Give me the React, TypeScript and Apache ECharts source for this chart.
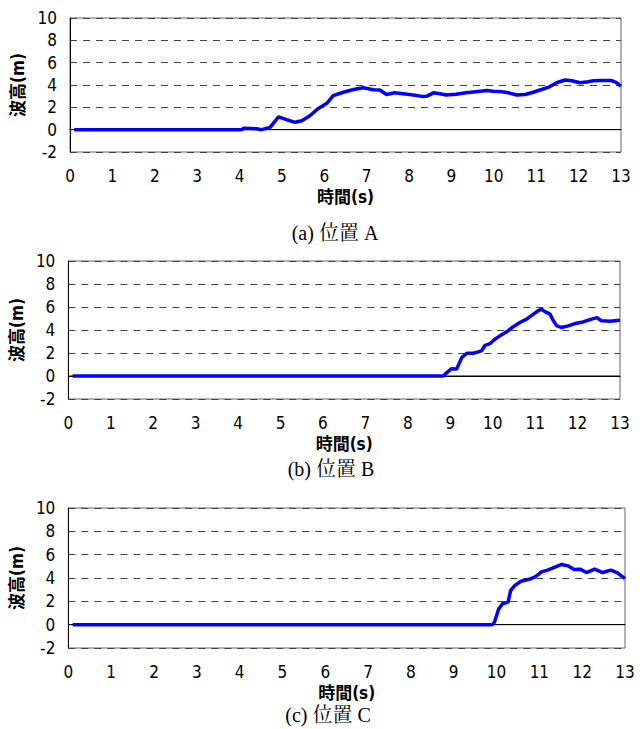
import React, { useEffect, useRef } from "react";
import * as echarts from "echarts";

const xTicks = [0, 13, 1];
const yTicks = [-2, 10, 2];

const tA = [0.1, 4.05, 4.1, 4.4, 4.52, 4.72, 4.92, 5.11, 5.31, 5.47, 5.66, 5.86, 6.06, 6.21, 6.45, 6.69, 6.92, 7.16, 7.31, 7.47, 7.66, 7.86, 8.1, 8.3, 8.42, 8.58, 8.73, 8.88, 9.11, 9.34, 9.58, 9.83, 9.99, 10.19, 10.35, 10.54, 10.74, 10.93, 11.09, 11.28, 11.48, 11.68, 11.84, 12.03, 12.23, 12.35, 12.51, 12.78, 12.9, 13.0];
const hA = [0, 0, 0.12, 0.08, 0, 0.2, 1.15, 0.9, 0.66, 0.8, 1.25, 1.9, 2.36, 3.05, 3.35, 3.6, 3.75, 3.58, 3.55, 3.15, 3.3, 3.22, 3.1, 2.98, 3.0, 3.3, 3.22, 3.1, 3.18, 3.3, 3.4, 3.5, 3.45, 3.4, 3.3, 3.1, 3.15, 3.35, 3.55, 3.78, 4.2, 4.45, 4.38, 4.2, 4.3, 4.38, 4.4, 4.4, 4.2, 3.9];

const tB = [0.1, 8.84, 8.92, 9.03, 9.15, 9.27, 9.39, 9.54, 9.66, 9.74, 9.82, 9.94, 10.05, 10.17, 10.33, 10.48, 10.64, 10.8, 10.96, 11.07, 11.15, 11.23, 11.35, 11.43, 11.51, 11.62, 11.78, 11.94, 12.13, 12.33, 12.46, 12.56, 12.76, 13.0];
const hB = [0, 0, 0.3, 0.64, 0.6, 1.6, 1.98, 1.98, 2.1, 2.2, 2.67, 2.82, 3.2, 3.49, 3.84, 4.27, 4.65, 4.94, 5.38, 5.67, 5.81, 5.6, 5.38, 4.8, 4.36, 4.22, 4.36, 4.56, 4.7, 4.94, 5.08, 4.8, 4.77, 4.85];

const tC = [0.1, 9.9, 9.95, 10.05, 10.14, 10.27, 10.33, 10.43, 10.57, 10.76, 10.9, 11.05, 11.19, 11.38, 11.52, 11.67, 11.81, 11.95, 12.1, 12.29, 12.48, 12.67, 12.81, 13.0];
const hC = [0, 0, 0.2, 1.35, 1.79, 1.93, 2.94, 3.37, 3.72, 3.89, 4.09, 4.52, 4.67, 4.96, 5.16, 5.04, 4.73, 4.76, 4.47, 4.76, 4.47, 4.67, 4.47, 3.95];

const zeroT = [0, 13];
const zeroH = [0, 0];

const captions = ["(a) 位置 A", "(b) 位置 B", "(c) 位置 C"];
const xName = "時間(s)";
const yName = "波高(m)";

const zip = (t: number[], h: number[]) => t.map((v, i) => [v, h[i]]);

const TICK_FONT = "'Liberation Sans Narrow', 'DejaVu Sans Condensed', 'Liberation Sans', 'Noto Sans CJK JP', sans-serif";
const NAME_FONT = "'Liberation Sans Narrow', 'DejaVu Sans Condensed', 'Noto Sans CJK JP', sans-serif";
const SERIF = "'Liberation Serif', 'Noto Serif CJK JP', 'Noto Sans CJK JP', serif";

const grids = [
  { left: 70, top: 18, width: 551, height: 134 },
  { left: 68, top: 261, width: 552, height: 138 },
  { left: 66, top: 508, width: 559, height: 140 },
];
const captionPos = [
  { x: 335, y: 233 },
  { x: 331, y: 469 },
  { x: 328, y: 715 },
];

export default function App() {
  const ref = useRef<HTMLDivElement>(null);
  useEffect(() => {
    document.body.style.margin = "0";
    const chart = echarts.init(ref.current!, null, { renderer: "svg" });
    const datasets = [zip(tA, hA), zip(tB, hB), zip(tC, hC)];
    const option: any = {
      animation: false,
      backgroundColor: "#fff",
      grid: grids.map((g) => ({
        ...g,
        show: true,
        borderColor: "#666",
        borderWidth: 1,
        backgroundColor: "transparent",
      })),
      xAxis: grids.map((_, i) => ({
        type: "value",
        gridIndex: i,
        min: xTicks[0],
        max: xTicks[1],
        interval: xTicks[2],
        name: xName,
        nameLocation: "middle",
        nameGap: 36,
        nameTextStyle: { fontFamily: NAME_FONT, fontSize: 17, color: "#000", fontWeight: "bold" },
        axisLine: { show: true, lineStyle: { color: "#000", width: 1 } },
        axisTick: { show: false },
        axisLabel: { color: "#000", fontFamily: TICK_FONT, fontSize: 17, margin: 15 },
        splitLine: { show: false },
      })),
      yAxis: grids.map((_, i) => ({
        type: "value",
        gridIndex: i,
        min: yTicks[0],
        max: yTicks[1],
        interval: yTicks[2],
        name: yName,
        nameLocation: "middle",
        nameGap: 40,
        nameTextStyle: { fontFamily: NAME_FONT, fontSize: 17, color: "#000", fontWeight: "bold" },
        axisLine: { show: true, lineStyle: { color: "#000", width: 1 } },
        axisTick: { show: false },
        axisLabel: { color: "#000", fontFamily: TICK_FONT, fontSize: 17, margin: 13 },
        splitLine: { show: true, lineStyle: { color: "#444", width: 1, type: [7, 6] } },
      })),
      series: [
        ...grids.map((_, i) => ({
          type: "line",
          xAxisIndex: i,
          yAxisIndex: i,
          data: zip(zeroT, zeroH),
          showSymbol: false,
          silent: true,
          z: 1,
          lineStyle: { color: "#000", width: 1 },
        })),
        ...datasets.map((d, i) => ({
          type: "line",
          xAxisIndex: i,
          yAxisIndex: i,
          data: d,
          showSymbol: false,
          z: 3,
          lineStyle: { color: "#0000ff", width: 3.5 },
        })),
      ],
      graphic: captions.map((c, i) => ({
        type: "text",
        x: captionPos[i].x,
        y: captionPos[i].y,
        style: {
          text: c,
          fontFamily: SERIF,
          fontSize: 20,
          fill: "#000",
          textAlign: "center",
          textVerticalAlign: "middle",
        },
      })),
    };
    chart.setOption(option);
    return () => chart.dispose();
  }, []);
  return <div ref={ref} style={{ width: 643, height: 729 }} />;
}
